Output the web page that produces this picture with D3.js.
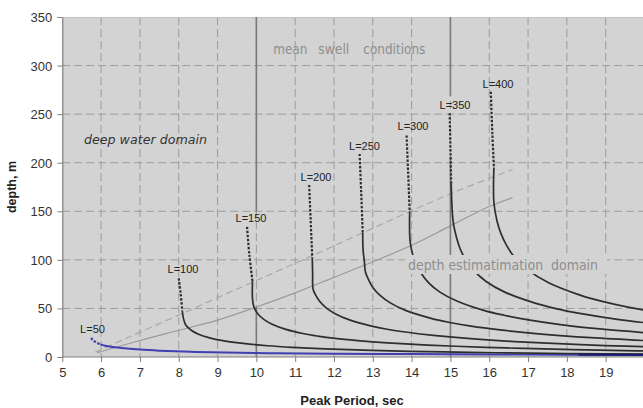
<!DOCTYPE html>
<html><head><meta charset="utf-8">
<script src="https://cdn.jsdelivr.net/npm/d3@7"></script>
<style>body{margin:0;background:#fff}svg{display:block}</style>
</head><body><svg id="c" width="643" height="408"></svg>
<script>
// ---------- data ----------
const xTicks = [5,6,7,8,9,10,11,12,13,14,15,16,17,18,19];
const yTicks = [0,50,100,150,200,250,300,350];
const waveLabels = ["L=50","L=100","L=150","L=200","L=250","L=300","L=350","L=400"];
// deep-water (dotted) parts [period, depth]
const dotted50  = [[5.74,19.5],[5.8,17],[5.9,14.5],[5.98,13]];
const dotted100 = [[8.0,81],[8.05,65],[8.09,48]];
const dotted150 = [[9.76,134],[9.82,105],[9.9,78]];
const dotted200 = [[11.36,177],[11.40,140],[11.44,102]];
const dotted250 = [[12.66,209],[12.70,170],[12.74,128]];
const dotted300 = [[13.87,228],[13.91,190],[13.95,150]];
const dotted350 = [[14.98,251],[15.0,215],[15.02,178]];
const dotted400 = [[16.04,273],[16.08,230],[16.12,195]];
// intermediate-depth (solid) parts
const solid50  = [[5.98,13],[6.1,11.6],[6.3,10.3],[6.6,9],[7.0,7.6],[7.5,6.5],[8.3,5.4],[9.2,4.6],[10.5,3.9],[12,3.4],[14,3],[16,2.7],[18,2.4],[20,2.2]];
const solid100 = [[8.09,48],[8.12,40],[8.18,33],[8.34,27],[8.51,23.5],[8.77,20],[9.17,16.6],[9.82,13.3],[10.29,11.6],[10.92,10],[11.77,8.4],[12.98,6.8],[14.83,5.2],[16.17,4.4],[18.01,3.6],[20.2,2.9]];
const solid150 = [[9.9,78],[9.9,60],[9.93,52.5],[9.98,47.7],[10.07,43],[10.21,38.2],[10.42,33.4],[10.74,28.7],[11.23,23.9],[11.58,21.5],[12.03,19.1],[12.61,16.9],[13.38,14.6],[14.42,12.3],[15.9,10],[16.9,8.8],[18.16,7.6],[19.81,6.4],[20.2,6.1]];
const solid200 = [[11.44,102],[11.45,85],[11.46,70],[11.53,63.7],[11.63,57.3],[11.79,50.9],[12.03,44.6],[12.4,38.2],[12.97,31.8],[13.37,28.6],[13.89,25.5],[14.56,22.3],[15.44,19.1],[16.65,15.9],[18.36,12.7],[19.51,11.1],[20.97,9.55]];
const solid250 = [[12.74,128],[12.75,110],[12.78,99.5],[12.81,87.5],[12.89,79.6],[13.0,71.6],[13.18,63.7],[13.45,55.7],[13.86,47.7],[14.5,39.8],[14.95,35.8],[15.53,31.8],[16.28,27.9],[17.27,23.9],[18.62,19.9],[20.53,15.9]];
const solid300 = [[13.95,150],[13.96,119.4],[14.03,105],[14.12,95.5],[14.25,86],[14.44,76.4],[14.73,66.8],[15.18,57.3],[15.88,47.7],[16.38,43],[17.01,38.2],[17.83,33.4],[18.92,28.6],[20.39,23.9]];
const solid350 = [[15.02,178],[15.07,139.3],[15.16,122.5],[15.25,111.4],[15.39,100.3],[15.6,89.1],[15.91,78],[16.4,66.8],[17.16,55.7],[17.69,50.1],[18.37,44.6],[19.26,39],[20.43,33.4]];
const solid400 = [[16.12,195],[16.12,159],[16.2,140],[16.3,127.3],[16.45,114.6],[16.67,101.8],[17.01,89.1],[17.53,76.4],[18.34,63.7],[18.91,57.3],[19.64,50.9],[20.59,44.6]];
const deepBlue = [[18.3,2.4],[20,2.2]];
// domain boundary lines
const boundarySolid  = [[5.9,4.5],[7,17],[8,27.5],[9,38],[10,51.5],[11,66],[12,82],[13,98],[14,115],[15,135],[16,155],[16.6,164]];
const boundaryDashed = [[5.85,5],[9,61],[11.2,100],[15,168],[16.6,193]];
// mean swell condition verticals
const swellLines = [[[10,350],[10,150]],[[10,51.5],[10,0]],[[15,350],[15,269]],[[15,206],[15,0]]];

const dottedSeries = [dotted50,dotted100,dotted150,dotted200,dotted250,dotted300,dotted350,dotted400];
const solidSeries  = [solid50,solid100,solid150,solid200,solid250,solid300,solid350,solid400];

// ---------- drawing ----------
const svg = d3.select("#c");
const X0=62.3, X1=644.5, Y0=357, Y1=17;
const x = d3.scaleLinear().domain([5,20]).range([X0,X1]);
const y = d3.scaleLinear().domain([0,350]).range([Y0,Y1]);
const BG = "#d3d3d3";

svg.append("defs").append("clipPath").attr("id","pc")
  .append("rect").attr("x",X0).attr("y",Y1).attr("width",643-X0).attr("height",Y0-Y1);

svg.append("rect").attr("x",X0).attr("y",Y1).attr("width",643-X0).attr("height",Y0-Y1).attr("fill",BG);

const g = svg.append("g").attr("clip-path","url(#pc)");
// grid
g.selectAll(".vg").data(xTicks.filter(t=>t>5)).enter().append("line")
  .attr("x1",d=>x(d)).attr("x2",d=>x(d)).attr("y1",Y1).attr("y2",Y0)
  .attr("stroke","#9c9c9c").attr("stroke-dasharray","8,4").attr("stroke-width",1);
g.selectAll(".hg").data(yTicks.filter(t=>t>0&&t<350)).enter().append("line")
  .attr("y1",d=>y(d)).attr("y2",d=>y(d)).attr("x1",X0).attr("x2",643)
  .attr("stroke","#9c9c9c").attr("stroke-dasharray","8,4").attr("stroke-width",1);
g.append("line").attr("x1",X0).attr("x2",643).attr("y1",Y1+0.5).attr("y2",Y1+0.5).attr("stroke","#c4c4c4");

const line = d3.line().x(d=>x(d[0])).y(d=>y(d[1])).curve(d3.curveCatmullRom.alpha(0.5));
const pline = d3.line().x(d=>x(d[0])).y(d=>y(d[1]));

// boundary lines
g.append("path").attr("d",line(boundaryDashed)).attr("fill","none").attr("stroke","#a8a8a8").attr("stroke-width",1.2).attr("stroke-dasharray","7,4");
g.append("path").attr("d",line(boundarySolid)).attr("fill","none").attr("stroke","#9a9a9a").attr("stroke-width",1.2);

// mean swell verticals
swellLines.forEach(s=>{
  g.append("path").attr("d",pline(s)).attr("stroke","#7a7a7a").attr("stroke-width",1.6).attr("fill","none");
});

// curves
solidSeries.forEach((s,i)=>{
  g.append("path").attr("d",line(s)).attr("fill","none")
    .attr("stroke", i===0?"#4040b0":"#2e2e2e").attr("stroke-width",i===0?2:1.7);
});
dottedSeries.forEach((s,i)=>{
  g.append("path").attr("d",line(s)).attr("fill","none")
    .attr("stroke", i===0?"#4040b0":"#2e2e2e").attr("stroke-width",2.2).attr("stroke-dasharray","2.4,1.6");
});
g.append("path").attr("d",pline(deepBlue)).attr("fill","none").attr("stroke","#1c1c70").attr("stroke-width",2.4);

// text box for depth estimation domain
g.append("rect").attr("x",405).attr("y",255).attr("width",202).attr("height",19).attr("fill",BG);
g.append("text").attr("x",408).attr("y",270).attr("font-family","DejaVu Sans, Verdana, sans-serif")
  .attr("font-size",13.5).attr("fill","#8e8e8e").attr("textLength",190).attr("lengthAdjust","spacingAndGlyphs")
  .attr("xml:space","preserve").text("depth estimatimation  domain");

// mean swell conditions
const msc = [["mean",273.3,34],["swell",318.3,31],["conditions",363.3,62]];
msc.forEach(m=>{
  g.append("text").attr("x",m[1]).attr("y",54).attr("font-family","DejaVu Sans, Verdana, sans-serif")
   .attr("font-size",13.5).attr("fill","#8e8e8e").attr("textLength",m[2]).attr("lengthAdjust","spacingAndGlyphs").text(m[0]);
});

// deep water domain
g.append("text").attr("x",84).attr("y",144).attr("font-family","DejaVu Sans, Verdana, sans-serif")
  .attr("font-style","italic").attr("font-size",13).attr("fill","#333").attr("textLength",123)
  .attr("lengthAdjust","spacingAndGlyphs").text("deep water domain");

// L labels
const labelCenters = [[92.5,333],[183,273],[251,222],[316,181],[364.5,150],[413,130],[455,108.5],[498,87.5]];
waveLabels.forEach((t,i)=>{
  const w = t.length===4?25:31;
  svg.append("text").attr("x",labelCenters[i][0]).attr("y",labelCenters[i][1])
    .attr("text-anchor","middle").attr("font-family","Liberation Sans, Arial, sans-serif")
    .attr("font-size",11).attr("fill","#222").attr("textLength",w).attr("lengthAdjust","spacingAndGlyphs").text(t);
});

// axes
const xAxis = d3.axisBottom(x).tickValues(xTicks).tickSize(5).tickSizeOuter(0);
const yAxis = d3.axisLeft(y).tickValues(yTicks).tickSize(5).tickSizeOuter(0);
const gx = svg.append("g").attr("transform",`translate(0,${Y0})`).call(xAxis);
const gy = svg.append("g").attr("transform",`translate(${X0},0)`).call(yAxis);
[gx,gy].forEach(a=>{
  a.select(".domain").attr("stroke","#808080").attr("stroke-width",1.2);
  a.selectAll(".tick line").attr("stroke","#808080");
  a.selectAll("text").attr("font-family","Liberation Sans, Arial, sans-serif").attr("font-size",13).attr("fill","#333");
});
gx.select(".domain").attr("d",`M${X0},0H643`);
gx.selectAll("text").attr("dy","0").attr("y",20);
gy.selectAll("text").attr("x",-10).attr("dy","0.35em");

svg.append("text").attr("x",352).attr("y",405).attr("text-anchor","middle")
  .attr("font-family","Liberation Sans, Arial, sans-serif").attr("font-weight","bold").attr("font-size",13)
  .attr("fill","#222").text("Peak Period, sec");
svg.append("text").attr("transform","translate(16,187) rotate(-90)").attr("text-anchor","middle")
  .attr("font-family","Liberation Sans, Arial, sans-serif").attr("font-weight","bold").attr("font-size",12.5)
  .attr("fill","#222").text("depth, m");
</script></body></html>
